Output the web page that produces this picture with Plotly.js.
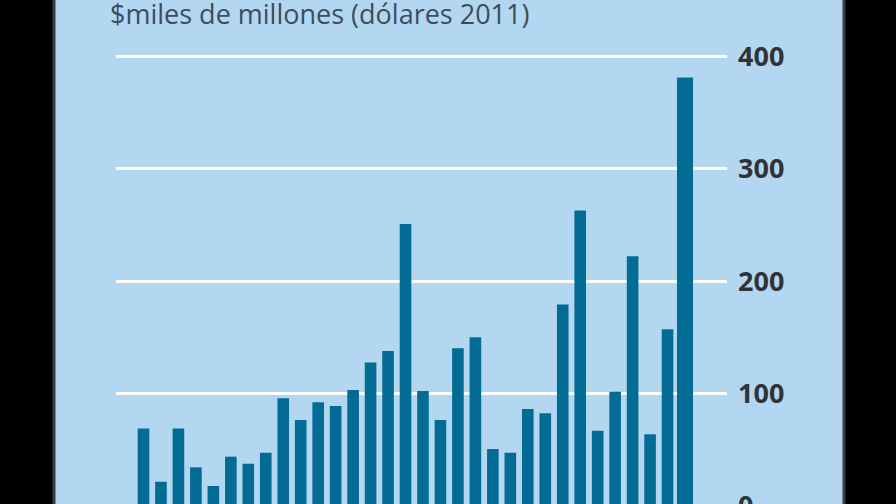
<!DOCTYPE html>
<html>
<head>
<meta charset="utf-8">
<script src="https://cdn.plot.ly/plotly-3.0.1.min.js"></script>
<style>
html,body{margin:0;padding:0;background:#000;overflow:hidden;width:896px;height:504px;}
#chart{width:896px;height:520px;}
</style>
</head>
<body>
<div id="chart"></div>
<script>
const years = [1980,1981,1982,1983,1984,1985,1986,1987,1988,1989,1990,1991,1992,1993,1994,1995,
               1996,1997,1998,1999,2000,2001,2002,2003,2004,2005,2006,2007,2008,2009,2010,2011];
const losses = [69,21.6,69,34.4,17.8,43.9,37.6,47.4,95.8,76.5,92.3,89,103.2,127.8,137.9,250.9,
                102.3,76.5,140.3,150.1,50.7,47.4,86.3,82.5,179.4,263,67,101.7,222.2,63.8,157.2,381.4];
const yTicks = [0,100,200,300,400];
const titleText = "$miles de millones (dólares 2011)";

const W = 896, H = 520;
const L = 116, R = 727, T = 40, B = 506;
const pw = R - L, ph = B - T;
const px = v => (v - L) / pw;
const py = v => (B - v) / ph;

const trace = {
  type: 'bar',
  x: years,
  y: losses,
  width: years.map((y, i) => i === years.length - 1 ? 0.92 : 0.665),
  marker: {color: '#036c94', line: {width: 0}},
  hoverinfo: 'x+y'
};

const layout = {
  width: W, height: H,
  margin: {l: L, r: W - R, t: T, b: H - B, pad: 0},
  paper_bgcolor: '#000000',
  plot_bgcolor: 'rgba(0,0,0,0)',
  showlegend: false,
  bargap: 0.3,
  xaxis: {
    range: [1978.426, 2013.404],
    showgrid: false, zeroline: false, showticklabels: false, ticks: '', showline: false, fixedrange: true
  },
  yaxis: {
    side: 'right',
    range: [0, (B - T) / 1.1238],
    tickvals: yTicks,
    ticktext: yTicks.map(String),
    showgrid: true, gridcolor: '#ffffff', gridwidth: 3,
    zeroline: false, showline: false, ticks: '',
    ticklabelstandoff: 10,
    ticklabeloverflow: 'allow',
    tickfont: {family: 'Open Sans, Liberation Sans, sans-serif', size: 27, color: '#2f3338', weight: 700},
    fixedrange: true
  },
  shapes: [
    {type: 'rect', xref: 'paper', yref: 'paper', layer: 'below',
     x0: px(54), x1: px(844), y0: py(H + 5), y1: py(-5),
     fillcolor: '#b3d7f0', line: {color: '#3a3e46', width: 3}}
  ],
  annotations: [
    {xref: 'paper', yref: 'paper', x: px(108), y: py(14), xanchor: 'left', yanchor: 'middle',
     text: titleText, showarrow: false,
     font: {family: 'Open Sans, sans-serif', size: 27, color: '#3c4d5d'}}
  ]
};

Plotly.newPlot('chart', [trace], layout, {displayModeBar: false, staticPlot: true});
</script>
</body>
</html>
